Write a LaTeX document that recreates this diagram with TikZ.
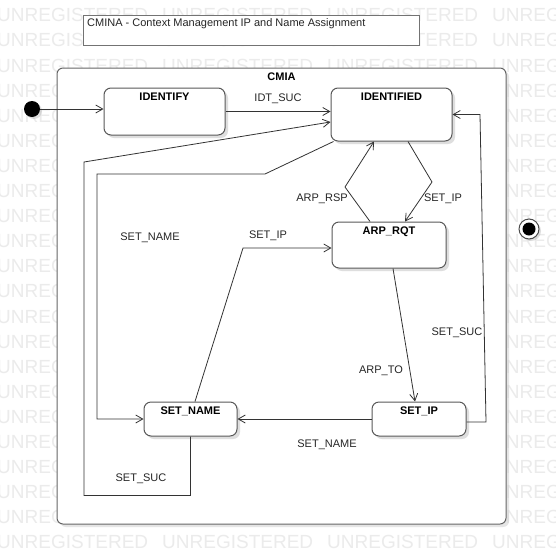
\documentclass[tikz,border=0pt]{standalone}
\usepackage{fontspec}
\setmainfont{Liberation Sans}
\usetikzlibrary{arrows.meta,positioning,shadows,calc}
\newcommand\LabelFont{\fontsize{11}{13}\selectfont}
\newcommand\MarkFont{\fontsize{19}{21}\selectfont}
\newcommand\MarkStep{165}
\tikzset{
  state/.style={
    shape = rectangle,
    draw = black!65,
    line width = 1pt,
    rounded corners = 7pt,
    fill = white,
    inner sep = 0pt,
    drop shadow = {shadow xshift=3pt, shadow yshift=-3pt, fill=black!25}
  },
  container/.style={
    shape = rectangle,
    draw = black!60,
    line width = 1pt,
    rounded corners = 6pt,
    fill = white,
    inner sep = 0pt,
    drop shadow = {shadow xshift=3pt, shadow yshift=-3pt, fill=black!20}
  },
  titlebox/.style={
    shape = rectangle,
    draw = black!55,
    line width = 1pt,
    fill = white,
    inner sep = 0pt
  },
  statename/.style={
    anchor = north,
    font = \LabelFont\bfseries,
    inner sep = 2pt
  },
  tlabel/.style={
    font = \LabelFont,
    text = black!85,
    inner sep = 1pt
  },
  trans/.style={
    draw = black!80,
    line width = 0.8pt,
    -{Straight Barb[length=7pt,width=8pt]}
  },
  watermark/.style={
    anchor = base west,
    font = \MarkFont,
    text = black!8,
    inner sep = 0pt
  }
}
\begin{document}
\begin{tikzpicture}[x=1pt,y=-1pt]
    \useasboundingbox (0,0) rectangle (556,549);
    \clip (0,0) rectangle (556,549);
    \fill[white] (0,0) rectangle (556,549);

    % background marks (the ones wholly under the CMIA box are left out)
    \foreach \row in {0,...,21} {
      \foreach \col in {0,...,3} {
        \pgfmathtruncatemacro\hidden{(\col>0)*(\col<3)*(\row>2)*(\row<21)}
        \ifnum\hidden=0
          \node[watermark] (wm-\row-\col) at ({-3+\MarkStep*\col},{21.8+25.1*\row}) {UNREGISTERED};
        \fi
      }
    }

    \node[titlebox, minimum width=336pt, minimum height=30pt, anchor=north west] (title) at (83,14.5) {};
    \node[tlabel, anchor=west] (title-text) at (86,23.5) {CMINA - Context Management IP and Name Assignment};

    \node[container, minimum width=449pt, minimum height=456pt] (cmia) at (281.5,296) {};
    \node[statename] (cmia-name) at ([yshift=-3pt]cmia.north) {CMIA};

    % states
    \node[state, minimum width=121pt, minimum height=47pt] (identify) at (164.5,111.5) {};
    \node[state, minimum width=121pt, minimum height=53pt] (identified) at (391.5,114.5) {};
    \node[state, minimum width=114pt, minimum height=46pt] (arprqt) at (389,245) {};
    \node[state, minimum width=93pt, minimum height=34pt] (setname) at (190.5,419) {};
    \node[state, minimum width=94pt, minimum height=34pt] (setip) at (419,419) {};

    \node[statename] (identify-name) at ([yshift=-3pt]identify.north) {IDENTIFY};
    \node[statename] (identified-name) at ([yshift=-3pt]identified.north) {IDENTIFIED};
    \node[statename] (arprqt-name) at ([yshift=-3pt]arprqt.north) {ARP\_RQT};
    \node[statename] (setname-name) at ([yshift=-3pt]setname.north) {SET\_NAME};
    \node[statename] (setip-name) at ([yshift=-3pt]setip.north) {SET\_IP};

    \node[circle, fill=black, minimum size=16pt, inner sep=0pt,
          drop shadow={shadow xshift=2pt, shadow yshift=-2pt, fill=black!25}] (init) at (32,109) {};
    \node[circle, draw=black!70, line width=1pt, fill=white, minimum size=20pt, inner sep=0pt,
          drop shadow={shadow xshift=2pt, shadow yshift=-2pt, fill=black!25}] (final) at (529,229) {};
    \node[circle, fill=black, minimum size=13pt, inner sep=0pt] (final-dot) at (final) {};

    % transitions
    \draw[trans] (init) -- (init -| identify.west);
    \draw[trans] (identify.east) -- (identify.east -| identified.west);
    \draw[trans] (setname.south) -- ++(0,59) -| (84,162) -- ([yshift=-7.5pt]identified.west);
    \draw[trans] ([xshift=3pt]identified.south west) -- (265,174) -- (97,174) |- (setname.west);
    \draw[trans] ([xshift=-19pt]arprqt.north) -- (345,187) -- ([xshift=-17.5pt]identified.south);
    \draw[trans] ([xshift=16.5pt]identified.south) -- (432,182) -- ([xshift=16pt]arprqt.north);
    \coordinate (bendip) at (243,248);
    \draw[trans] ([xshift=4.5pt]setname.north) -- (bendip) -- (bendip -| arprqt.west);
    \draw[trans] ([xshift=4pt]arprqt.south) -- ([xshift=-4pt]setip.north);
    \draw[trans] ([yshift=-3pt]setip.east) -- (486,422) -- (480,114.5) -- (identified.east);
    \draw[trans] (setip.west) -- (setname.east);

    \node[tlabel] (l-idtsuc) at (278,99) {IDT\_SUC};
    \node[tlabel] (l-setname1) at (150,238) {SET\_NAME};
    \node[tlabel] (l-setip1) at (268,236) {SET\_IP};
    \node[tlabel] (l-arprsp) at (322,199) {ARP\_RSP};
    \node[tlabel] (l-setip2) at (443,199) {SET\_IP};
    \node[tlabel] (l-arpto) at (381,371) {ARP\_TO};
    \node[tlabel] (l-setsuc1) at (457,333) {SET\_SUC};
    \node[tlabel] (l-setname2) at (327,445) {SET\_NAME};
    \node[tlabel] (l-setsuc2) at (141,479) {SET\_SUC};
\end{tikzpicture}
\end{document}
